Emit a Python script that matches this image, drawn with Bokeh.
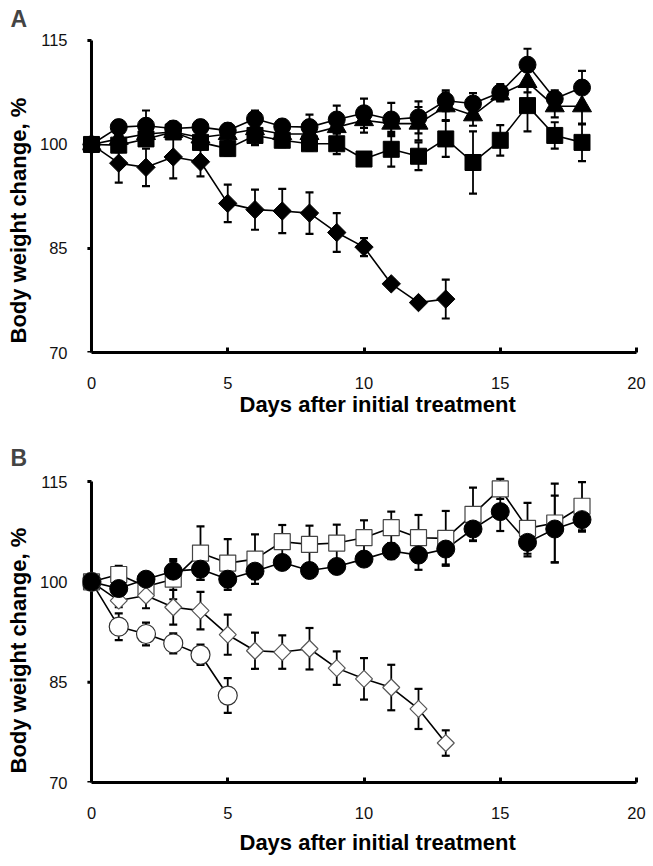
import numpy as np
from bokeh.plotting import figure
from bokeh.layouts import column
from bokeh.models import Range1d, FixedTicker, Title
from bokeh.embed import file_html
from bokeh.resources import INLINE

# ---------------- data: panel A ----------------
days_a = list(range(19))
days_a_diamond = list(range(14))
a_circle = [100, 102.5, 102.7, 102.3, 102.5, 102.0, 103.7, 102.6, 102.5, 103.6, 104.5,
            103.6, 103.9, 106.3, 105.9, 107.5, 111.5, 106.6, 108.2]
a_circle_err = [0, 1.0, 2.2, 1.0, 1.0, 1.0, 1.2, 1.0, 1.8, 2.0, 2.1,
                2.4, 2.3, 1.5, 1.5, 1.2, 2.3, 1.2, 2.4]
a_triangle = [100, 100.8, 101.5, 101.8, 101.0, 101.5, 102.2, 101.5, 101.5, 102.5, 103.5,
              103.0, 103.0, 105.5, 104.2, 107.2, 109.0, 105.5, 105.5]
a_triangle_err = [0, 1.0, 1.0, 1.0, 1.0, 1.0, 1.0, 1.0, 1.0, 1.5, 1.8,
                  1.5, 2.4, 2.0, 1.5, 1.0, 1.5, 1.6, 2.6]
a_square = [100, 99.9, 100.8, 101.8, 100.3, 99.4, 101.3, 100.6, 100.1, 100.1, 97.9,
            99.3, 98.3, 100.8, 97.4, 100.6, 105.6, 101.3, 100.3]
a_square_err = [0, 1.0, 1.0, 1.0, 1.0, 1.0, 1.4, 1.0, 1.0, 1.5, 1.0,
                2.5, 2.0, 2.6, 4.5, 2.2, 3.7, 1.9, 2.7]
a_diamond = [100, 97.3, 96.7, 98.2, 97.5, 91.5, 90.6, 90.4, 90.1, 87.3, 85.2, 79.9, 77.2, 77.7]
a_diamond_err = [0, 2.8, 2.7, 3.1, 2.1, 2.7, 2.9, 3.2, 3.0, 2.8, 1.3, 0.6, 0.4, 2.8]

# ---------------- data: panel B ----------------
days_b = list(range(19))
days_b_diamond = list(range(14))
days_b_ocircle = list(range(6))
b_circle = [100, 99.0, 100.4, 101.6, 101.9, 100.4, 101.6, 102.9, 101.7, 102.3, 103.4,
            104.6, 104.0, 104.9, 107.9, 110.5, 105.9, 107.9, 109.3]
b_circle_err = [0, 1.0, 1.0, 1.5, 1.6, 1.6, 1.2, 1.0, 1.0, 1.0, 1.0,
                1.2, 2.2, 2.3, 1.7, 2.9, 2.1, 5.0, 1.8]
b_square = [100, 101.1, 99.3, 100.4, 104.3, 102.8, 103.4, 106.0, 105.6, 105.8, 106.6,
            108.1, 106.6, 106.5, 110.1, 113.9, 108.0, 108.8, 111.3]
b_square_err = [0, 1.3, 1.0, 3.0, 4.0, 3.6, 3.7, 2.5, 2.8, 2.75, 2.6,
                2.4, 3.4, 4.1, 4.0, 1.5, 3.8, 5.9, 3.6]
b_diamond = [100, 97.2, 97.95, 96.2, 95.7, 92.1, 89.7, 89.5, 90.0, 87.1, 85.5, 84.2, 81.0, 75.9]
b_diamond_err = [0, 1.0, 1.9, 2.6, 2.8, 3.0, 2.7, 2.5, 3.1, 2.5, 3.1, 3.4, 3.0, 1.9]
b_ocircle = [100, 93.3, 92.2, 90.8, 89.1, 83.0]
b_ocircle_err = [0, 2.0, 1.7, 1.5, 1.5, 2.6]

x_ticks = [0, 5, 10, 15, 20]
y_ticks = [70, 85, 100, 115]
y_axis_bounds = [70, 115]

FONT = "Liberation Sans"
X_LABEL = "Days after initial treatment"
Y_LABEL = "Body weight change, %"


def lines_and_bars(p, x, y, err):
    x = np.asarray(x, float)
    y = np.asarray(y, float)
    e = np.asarray(err, float)
    p.line(x, y, line_color="black", line_width=1.6)
    m = e > 0
    p.segment(x0=x[m], y0=(y - e)[m], x1=x[m], y1=(y + e)[m],
              line_color="black", line_width=1.8)
    for yy in ((y + e)[m], (y - e)[m]):
        p.scatter(x[m], yy, marker="dash", size=8, line_color="black", line_width=2.2)


def markers(p, x, y, marker, size, fill, line_color="black", line_width=1.0, angle=0.0):
    p.scatter(x, y, marker=marker, size=size, angle=angle, fill_color=fill,
              line_color=line_color, line_width=line_width)


def make_fig(letter, frame_h, y_end, top, bottom, letter_standoff, xtitle_standoff):
    p = figure(frame_width=563, frame_height=frame_h,
               x_range=Range1d(-0.33, 20.33), y_range=Range1d(70, y_end),
               output_backend="svg", toolbar_location=None,
               min_border_left=82, min_border_right=8,
               min_border_top=top, min_border_bottom=bottom)
    p.title.text = letter
    p.title.text_font = FONT
    p.title.text_font_size = "23px"
    p.title.text_font_style = "bold"
    p.title.align = "left"
    p.title.offset = -72
    p.title.standoff = letter_standoff
    p.grid.visible = False
    p.outline_line_color = None
    p.background_fill_color = "white"
    p.border_fill_color = "white"

    for ax in (p.xaxis, p.yaxis):
        ax.minor_tick_line_color = None
        ax.major_label_text_font = FONT
        ax.major_label_text_font_size = "16.5px"
        ax.major_label_text_color = "#111111"

    # x axis: native, drawn at y=70 (frame bottom)
    p.xaxis.axis_line_width = 3
    p.xaxis.axis_line_color = "black"
    p.xaxis.major_tick_line_width = 3
    p.xaxis.major_tick_line_color = "black"
    p.xaxis.ticker = FixedTicker(ticks=x_ticks)
    p.xaxis.bounds = (0, 20)
    p.xaxis.major_tick_in = 5
    p.xaxis.major_tick_out = 0
    p.xaxis.major_label_standoff = 24

    # y axis: native labels only; the line itself is drawn at day 0 below
    p.yaxis.ticker = FixedTicker(ticks=y_ticks)
    p.yaxis.axis_line_color = None
    p.yaxis.major_tick_line_color = None
    p.yaxis.major_tick_in = 0
    p.yaxis.major_tick_out = 0
    p.yaxis.major_label_standoff = 15

    # axis titles
    xt = Title(text=X_LABEL, align="left", offset=157, vertical_align="top",
               standoff=xtitle_standoff, text_font=FONT, text_font_size="22px",
               text_font_style="bold", text_color="black")
    p.add_layout(xt, "below")
    yt = Title(text=Y_LABEL, align="left", offset=9, vertical_align="top",
               standoff=8, text_font=FONT, text_font_size="22px",
               text_font_style="bold", text_color="black")
    p.add_layout(yt, "left")

    # y axis line at day 0 with outward ticks
    p.segment(x0=[0], y0=[y_axis_bounds[0]], x1=[0], y1=[y_axis_bounds[1]],
              line_color="black", line_width=3)
    p.segment(x0=[-0.15] * len(y_ticks), y0=y_ticks, x1=[0] * len(y_ticks), y1=y_ticks,
              line_color="black", line_width=3)
    return p


# ---------------- panel A ----------------
pa = make_fig("A", 319, 116.0, 33, 86, 3, 0)
lines_and_bars(pa, days_a_diamond, a_diamond, a_diamond_err)
lines_and_bars(pa, days_a, a_square, a_square_err)
lines_and_bars(pa, days_a, a_triangle, a_triangle_err)
lines_and_bars(pa, days_a, a_circle, a_circle_err)
markers(pa, days_a_diamond, a_diamond, "square", 13, "black", angle=np.pi / 4)
markers(pa, days_a, a_square, "square", 16, "black")
markers(pa, days_a, a_triangle, "triangle", 19, "black")
markers(pa, days_a, a_circle, "circle", 17, "black")

# ---------------- panel B ----------------
pb = make_fig("B", 308, 116.05, 35, 85, 8, 16)
lines_and_bars(pb, days_b, b_square, b_square_err)
lines_and_bars(pb, days_b_diamond, b_diamond, b_diamond_err)
lines_and_bars(pb, days_b_ocircle, b_ocircle, b_ocircle_err)
lines_and_bars(pb, days_b, b_circle, b_circle_err)
markers(pb, days_b, b_square, "square", 16, "white", line_color="#444444", line_width=1.2)
markers(pb, days_b_diamond, b_diamond, "square", 12, "white", line_color="#555555",
        line_width=1.2, angle=np.pi / 4)
markers(pb, days_b_ocircle, b_ocircle, "circle", 19, "white", line_color="#333333", line_width=1.2)
markers(pb, days_b, b_circle, "circle", 18, "black")

layout = column(pa, pb, spacing=0)
open("out.html", "w").write(file_html(layout, INLINE))
